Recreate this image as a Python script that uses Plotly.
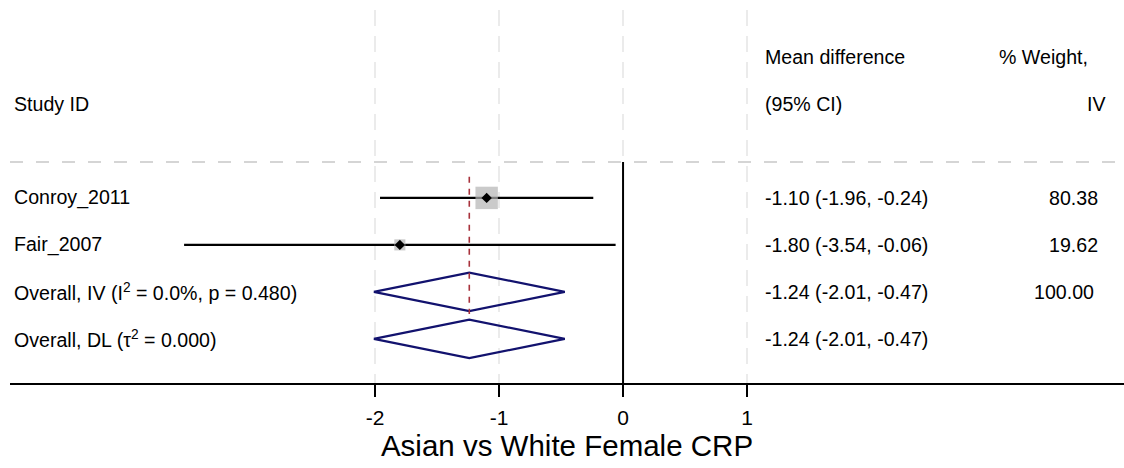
import plotly.graph_objects as go

# ---- data -------------------------------------------------------------
studies = ["Conroy_2011", "Fair_2007"]
study_md = [-1.10, -1.80]
study_lo = [-1.96, -3.54]
study_hi = [-0.24, -0.06]
study_wt = [80.38, 19.62]

pooled_labels = ["Overall, IV (I<sup>2</sup> = 0.0%, p = 0.480)",
                 "Overall, DL (τ<sup>2</sup> = 0.000)"]
pooled_md = [-1.24, -1.24]
pooled_lo = [-2.01, -2.01]
pooled_hi = [-0.47, -0.47]
pooled_wt = [100.00, None]

tick_vals = [-2, -1, 0, 1]
x_title = "Asian vs White Female CRP"

# ---- layout constants -------------------------------------------------
FONT = "Liberation Sans, Arial, Helvetica, sans-serif"
TXT = 19.6
X_RANGE = [-4.944, 4.040]
Y_RANGE = [4.94, -3.0]          # rows grow downward
SEP_Y = 0.235                    # header separator
COL_LABEL = -4.925
COL_CI = 1.128
COL_WT_R = 3.845
COL_HDR_WT_R = 3.765
COL_HDR_IV_R = 3.91
NAVY = "#12126e"

n = len(studies)
study_rows = list(range(1, n + 1))
pooled_rows = list(range(n + 1, n + 1 + len(pooled_md)))

fig = go.Figure()

# confidence-interval whiskers for each study
for r, lo, hi in zip(study_rows, study_lo, study_hi):
    fig.add_trace(go.Scatter(x=[lo, hi], y=[r, r], mode="lines",
                             line=dict(color="black", width=2.2),
                             hoverinfo="skip", showlegend=False))

# weight boxes (side proportional to sqrt of weight)
fig.add_trace(go.Scatter(
    x=study_md, y=study_rows, mode="markers",
    marker=dict(symbol="square", color="#b4b4b4",
                size=[2.5 * w ** 0.5 for w in study_wt], line=dict(width=0)),
    hoverinfo="skip", showlegend=False))

# point estimates
fig.add_trace(go.Scatter(
    x=study_md, y=study_rows, mode="markers",
    marker=dict(symbol="diamond", color="black", size=8),
    hoverinfo="skip", showlegend=False))

# pooled diamonds
H = 0.41
for r, md, lo, hi in zip(pooled_rows, pooled_md, pooled_lo, pooled_hi):
    fig.add_trace(go.Scatter(
        x=[lo, md, hi, md, lo], y=[r, r - H, r, r + H, r], mode="lines",
        line=dict(color=NAVY, width=2.2),
        hoverinfo="skip", showlegend=False))

shapes = [
    # header separator
    dict(type="line", xref="paper", x0=0, x1=1, yref="y", y0=SEP_Y, y1=SEP_Y,
         line=dict(color="#c8c8c8", width=1.6, dash="13px,13px"), layer="below"),
    # line of no effect
    dict(type="line", xref="x", x0=0, x1=0, yref="y", y0=SEP_Y, y1=Y_RANGE[0],
         line=dict(color="black", width=2)),
    # overall estimate
    dict(type="line", xref="x", x0=pooled_md[0], x1=pooled_md[0], yref="y",
         y0=0.55, y1=pooled_rows[0] + 0.47,
         line=dict(color="#a8323c", width=1.6, dash="6px,6px")),
]

annotations = []


def text(x, y, s, anchor="left", size=TXT):
    annotations.append(dict(x=x, y=y, xref="x", yref="y", text=s,
                            showarrow=False, xanchor=anchor, yanchor="middle",
                            font=dict(family=FONT, size=size, color="black")))


# column headers
text(COL_LABEL, -1, "Study ID")
text(COL_CI, -2, "Mean difference")
text(COL_CI, -1, "(95% CI)")
text(COL_HDR_WT_R, -2, "% Weight,", "right")
text(COL_HDR_IV_R, -1, "IV", "right")

for r, name, md, lo, hi, w in zip(study_rows, studies, study_md, study_lo, study_hi, study_wt):
    text(COL_LABEL, r, name)
    text(COL_CI, r, f"{md:.2f} ({lo:.2f}, {hi:.2f})")
    text(COL_WT_R, r, f"{w:.2f}", "right")

for r, name, md, lo, hi, w in zip(pooled_rows, pooled_labels, pooled_md, pooled_lo, pooled_hi, pooled_wt):
    text(COL_LABEL, r, name)
    text(COL_CI, r, f"{md:.2f} ({lo:.2f}, {hi:.2f})")
    if w is not None:
        text(COL_WT_R - 0.03, r, f"{w:.2f}", "right")

fig.update_layout(
    width=1124, height=468,
    margin=dict(l=10, r=0, t=10, b=85),
    paper_bgcolor="white", plot_bgcolor="white",
    shapes=shapes, annotations=annotations,
    hovermode=False,
    font=dict(family=FONT, color="black"),
)

fig.update_xaxes(
    range=X_RANGE, tickmode="array", tickvals=tick_vals,
    ticktext=[str(v) for v in tick_vals],
    showline=True, linecolor="black", linewidth=1.6,
    ticks="outside", ticklen=12, tickwidth=1.6, tickcolor="black",
    tickfont=dict(family=FONT, size=21, color="black"),
    ticklabelstandoff=3,
    showgrid=True, gridcolor="#ebebeb", gridwidth=2, griddash="16px,10px",
    zeroline=False,
    title=dict(text=x_title, font=dict(family=FONT, size=29.5, color="black"),
               standoff=7),
    fixedrange=True,
)
fig.update_yaxes(range=Y_RANGE, visible=False, showgrid=False,
                 zeroline=False, fixedrange=True)

fig.write_html("out.html", config={"displayModeBar": False, "staticPlot": True})
